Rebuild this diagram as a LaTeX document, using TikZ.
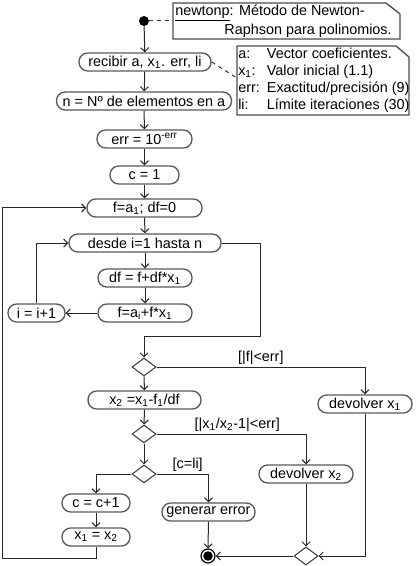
\documentclass[tikz,border=0pt]{standalone}
\usepackage{fontspec}
\setmainfont{Liberation Sans}
\usetikzlibrary{arrows.meta,shapes.geometric}
\tikzset{
  act/.style={draw=black!65, line width=1pt, rounded corners=6.5pt,
    minimum height=13.5pt, inner sep=0pt, font=\fontsize{10.8}{12}\selectfont},
  wd/.style={minimum width=#1*0.75pt},
  dec/.style={draw=black!75, line width=0.8pt, diamond, minimum width=18pt,
    minimum height=13.5pt, inner sep=0pt},
  flow/.style={draw=black!85, line width=0.75pt,
    -{Straight Barb[length=3pt,width=6pt]}},
  notebox/.style={draw=black!70, line width=1pt, fill=white},
  guard/.style={font=\fontsize{10.8}{12}\selectfont, inner sep=1.5pt},
  txt/.style={font=\fontsize{10.8}{12.75}\selectfont, inner sep=0pt},
}

\begin{document}
\begin{tikzpicture}[x=0.75pt,y=-0.75pt]
    \useasboundingbox (0,0) rectangle (417,566);

    % Points
    \coordinate (n1) at (173,21);
    \coordinate (n2) at (237,78);
    \coordinate (exit) at (260,336);
    \coordinate (back) at (2,558);

    % Notes
    \draw[notebox] (173,3) -- (386,3) -- (400,14) -- (400,39) -- (173,39) -- cycle;
    \node[txt, anchor=west] (title1) at (175,13) {\underline{newtonp}: Método de Newton-};
    \node[txt, anchor=east] (title2) at (392,31) {Raphson para polinomios.};

    \draw[notebox] (237,46) -- (396,46) -- (409,57) -- (409,115) -- (237,115) -- cycle;
    \node[txt, anchor=north west, align=left] (params) at (238,48)
      {\makebox[21.5pt][l]{a:}Vector coeficientes.\\
       \makebox[21.5pt][l]{x\textsubscript{1}:}Valor inicial (1.1)\\
       \makebox[21.5pt][l]{err:}Exactitud/precisión (9)\\
       \makebox[21.5pt][l]{li:}Límite iteraciones (30)};

    % Activities
    \node[circle, fill=black, minimum size=7.5pt, inner sep=0pt] (start) at (144,21) {};
    \node[act, wd=132] (recv) at (145,62) {recibir a, x\textsubscript{1}. err, li};
    \node[act, wd=175] (count) at (144,101) {n = Nº de elementos en a};
    \node[act, wd=95] (tol) at (144.5,139) {err = 10\textsuperscript{-err}};
    \node[act, wd=69] (cinit) at (144.5,175) {c = 1};
    \node[act, wd=115] (finit) at (144.5,208) {f=a\textsubscript{1}; df=0};
    \node[act, wd=152] (loop) at (145,243) {desde i=1 hasta n};
    \node[act, wd=94] (dfup) at (145,278) {df = f+df*x\textsubscript{1}};
    \node[act, wd=94] (fup) at (145,313) {f=a\textsubscript{i}+f*x\textsubscript{1}};
    \node[act, wd=57] (inc) at (36.5,313) {i = i+1};
    \node[dec] (chkf) at (144,367) {};
    \node[act, wd=113] (newx) at (144.5,400) {x\textsubscript{2} =x\textsubscript{1}-f\textsubscript{1}/df};
    \node[act, wd=94] (retx1) at (365,404) {devolver x\textsubscript{1}};
    \node[dec] (chkx) at (144,434) {};
    \node[act, wd=94] (retx2) at (306,474) {devolver x\textsubscript{2}};
    \node[dec] (chkc) at (144,474) {};
    \node[act, wd=68] (cinc) at (96,503) {c = c+1};
    \node[act, wd=93] (fail) at (208.5,512) {generar error};
    \node[act, wd=68] (swap) at (96,537) {x\textsubscript{1} = x\textsubscript{2}};
    \node[dec] (merge) at (306,556) {};
    \node[circle, draw=black, line width=0.9pt, minimum size=10.5pt, inner sep=0pt] (stop) at (208,556) {};
    \fill (stop.center) circle[radius=3.6pt];

    % Note links
    \draw[dashed, black!80, line width=0.75pt] (start) -- (n1);
    \draw[dashed, black!80, line width=0.75pt] (recv.east) -- (n2);

    % Flow
    \draw[flow] (start) -- (recv);
    \draw[flow] (recv) -- (count);
    \draw[flow] (count) -- (tol);
    \draw[flow] (tol) -- (cinit);
    \draw[flow] (cinit) -- (finit);
    \draw[flow] (finit) -- (loop);
    \draw[flow] (loop) -- (dfup);
    \draw[flow] (dfup) -- (fup);
    \draw[flow] (fup) -- (inc);
    \draw[flow] (inc) |- (loop);
    \draw[flow] (loop) -- (loop.east -| exit) -- (exit) -| (chkf);
    \draw[flow] (chkf) -| node[guard, above, pos=0.25] {[|f|<err]} (retx1);
    \draw[flow] (chkf) -- (newx);
    \draw[flow] (newx) -- (chkx);
    \draw[flow] (chkx) -| node[guard, above, pos=0.27] {[|x\textsubscript{1}/x\textsubscript{2}-1|<err]} (retx2);
    \draw[flow] (chkx) -- (chkc);
    \draw[flow] (chkc) -| node[guard, above, pos=0.3] {[c=li]} (fail);
    \draw[flow] (chkc) -| (cinc);
    \draw[flow] (cinc) -- (swap);
    \draw[flow] (swap) |- (back) |- (finit);
    \draw[flow] (fail) -- (stop);
    \draw[flow] (retx2) -- (merge);
    \draw[flow] (retx1) |- (merge);
    \draw[flow] (merge) -- (stop);
\end{tikzpicture}
\end{document}
